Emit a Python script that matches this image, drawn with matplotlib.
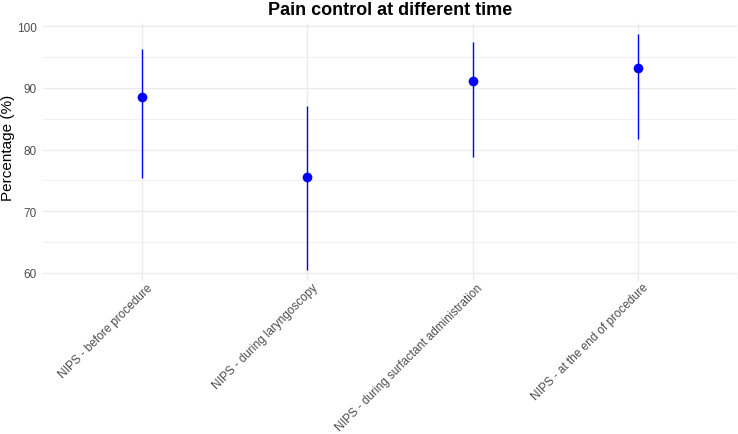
import matplotlib
matplotlib.use("Agg")
import matplotlib.pyplot as plt
import matplotlib.transforms as mtrans
from matplotlib.ticker import MultipleLocator

categories = ["NIPS - before procedure", "NIPS - during laryngoscopy",
              "NIPS - during surfactant administration", "NIPS - at the end of procedure"]
estimate = [88.6, 75.6, 91.1, 93.3]
lower = [75.4, 60.5, 78.8, 81.7]
upper = [96.3, 87.1, 97.5, 98.7]

plt.rcParams['font.family'] = ['Liberation Sans', 'DejaVu Sans']

fig = plt.figure(figsize=(7.38, 4.35), dpi=100)
ax = fig.add_axes([0.0583, 0.351, 0.9405, 0.5945])

x = list(range(len(categories)))
ax.vlines(x, lower, upper, color='blue', linewidth=1.0, zorder=3)
ax.plot(x, estimate, 'o', color='blue', markersize=7, markeredgewidth=0, zorder=4)

ax.set_xlim(-0.6, len(categories) - 1 + 0.6)
ax.set_ylim(58.6, 100.6)
ax.yaxis.set_major_locator(MultipleLocator(10))
ax.yaxis.set_minor_locator(MultipleLocator(5))
ax.set_xticks(x)
ax.set_xticklabels(categories, rotation=45, ha='right', va='top', rotation_mode='anchor')

for s in ax.spines.values():
    s.set_visible(False)
ax.grid(True, which='major', color='#EBEBEB', linewidth=1.0)
ax.grid(True, which='minor', axis='y', color='#EBEBEB', linewidth=0.5)
ax.set_axisbelow(True)
ax.tick_params(which='both', length=0, labelsize=8.5, colors='#4D4D4D')
ax.tick_params(axis='y', pad=4.5)
ax.tick_params(axis='x', pad=0)
fig.text(8 / 738, 1 - 148 / 435, "Percentage (%)", rotation=90, fontsize=11,
         color='black', ha='center', va='center')
ax.set_title("Pain control at different time", fontsize=13, fontweight='bold', pad=6)

offset = mtrans.ScaledTranslation(4 / 100, 0, fig.dpi_scale_trans)
for lbl in ax.get_xticklabels():
    lbl.set_transform(lbl.get_transform() + offset)

fig.savefig("out.png", dpi=100)
